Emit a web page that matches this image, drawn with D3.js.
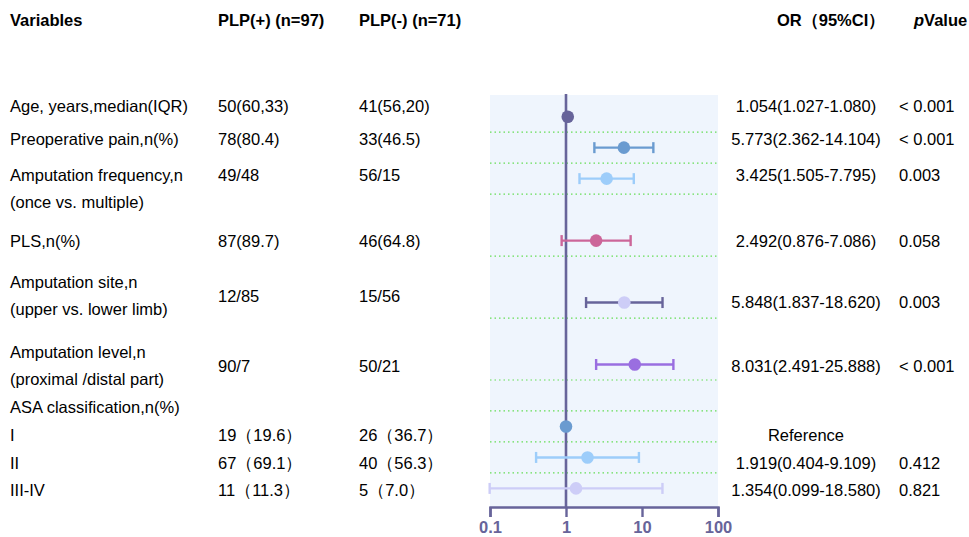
<!DOCTYPE html>
<html>
<head>
<meta charset="utf-8">
<script src="https://cdn.jsdelivr.net/npm/d3@7"></script>
<style>
  html, body { margin: 0; padding: 0; background: #fff; }
  svg { display: block; font-family: Arial, "Liberation Sans", sans-serif; }
</style>
</head>
<body>
<svg id="chart" width="969" height="537"></svg>
<script>
// table text
const variableLabels = [
  ['Age, years,median(IQR)'],
  ['Preoperative pain,n(%)'],
  ['Amputation frequency,n', '(once vs. multiple)'],
  ['PLS,n(%)'],
  ['Amputation site,n', '(upper vs. lower limb)'],
  ['Amputation level,n', '(proximal /distal part)'],
  ['ASA classification,n(%)'],
  ['I'],
  ['II'],
  ['III-IV']
];
const plpPos = ['50(60,33)', '78(80.4)', '49/48', '87(89.7)', '12/85', '90/7', '', '19（19.6）', '67（69.1）', '11（11.3）'];
const plpNeg = ['41(56,20)', '33(46.5)', '56/15', '46(64.8)', '15/56', '50/21', '', '26（36.7）', '40（56.3）', '5（7.0）'];
const orText = ['1.054(1.027-1.080)', '5.773(2.362-14.104)', '3.425(1.505-7.795)', '2.492(0.876-7.086)',
  '5.848(1.837-18.620)', '8.031(2.491-25.888)', '', 'Reference', '1.919(0.404-9.109)', '1.354(0.099-18.580)'];
const pText = ['< 0.001', '< 0.001', '0.003', '0.058', '0.003', '< 0.001', '', '', '0.412', '0.821'];

// forest plot values (null = no mark)
const orVal  = [1.054, 5.773, 3.425, 2.492, 5.848, 8.031, null, 1, 1.919, 1.354];
const ciLow  = [1.027, 2.362, 1.505, 0.876, 1.837, 2.491, null, null, 0.404, 0.099];
const ciHigh = [1.080, 14.104, 7.795, 7.086, 18.620, 25.888, null, null, 9.109, 18.580];
const plotSlot = [0, 1, 2, 4, 6, 8, 9, 10, 11, 12];
const dividerSlots = [0, 1, 2, 4, 6, 8, 9, 10, 11];
const xTicks = [0.1, 1, 10, 100];

const dotColors = ['#67649a', '#6a9bd0', '#9dcdfa', '#cc6699', '#cdcdf7', '#9a6ee0', null, '#6a9bd0', '#9dcdfa', '#cdcdf7'];
const barColors = ['#67649a', '#6a9bd0', '#9dcdfa', '#cc6699', '#67649a', '#9a6ee0', null, '#6a9bd0', '#9dcdfa', '#cdcdf7'];

// text row layout (y centre of first line)
const textY = [106, 139, 175, 241, 282, 352, 407, 435, 463, 490];
const LINE = 27;

const svg = d3.select('#chart');
const FS = 16.5;
const AXIS = '#67649a';

const panel = { x0: 490, x1: 718, y0: 95, y1: 507 };
const x = d3.scaleLog().domain([0.1, 100]).range([panel.x0, panel.x1]);
const y = d3.scaleLinear().domain([-0.7, 12.6]).range([panel.y0, panel.y1]);

// panel background
svg.append('rect')
  .attr('x', panel.x0).attr('y', panel.y0)
  .attr('width', panel.x1 - panel.x0).attr('height', panel.y1 - panel.y0)
  .attr('fill', '#eff5fd');

// dotted dividers
svg.append('g').selectAll('line')
  .data(dividerSlots)
  .enter().append('line')
  .attr('x1', panel.x0).attr('x2', panel.x1)
  .attr('y1', d => y(d + 0.5)).attr('y2', d => y(d + 0.5))
  .attr('stroke', '#66dd55')
  .attr('stroke-width', 1.2)
  .attr('stroke-dasharray', '1.5,3');

// reference line at OR = 1
svg.append('line')
  .attr('x1', x(1)).attr('x2', x(1))
  .attr('y1', panel.y0 - 1).attr('y2', panel.y1)
  .attr('stroke', AXIS).attr('stroke-width', 2.6);

// x axis
const axis = svg.append('g')
  .attr('transform', `translate(0,${panel.y1})`)
  .call(d3.axisBottom(x).tickValues(xTicks).tickFormat(d3.format('~g')).tickSize(10).tickPadding(4));
axis.select('.domain').attr('stroke', AXIS).attr('stroke-width', 2.4);
axis.selectAll('.tick line').attr('stroke', AXIS).attr('stroke-width', 2.4);
axis.selectAll('.tick text')
  .attr('fill', AXIS)
  .attr('font-size', 16.5)
  .attr('font-weight', 'bold')
  .attr('font-family', 'Arial, "Liberation Sans", sans-serif');

// error bars + dots
const rows = orVal.map((v, i) => ({ i, v, lo: ciLow[i], hi: ciHigh[i], slot: plotSlot[i] }))
  .filter(d => d.v !== null);
const marks = svg.append('g');
rows.filter(d => d.lo !== null).forEach(d => {
  const g = marks.append('g').attr('stroke', barColors[d.i]).attr('stroke-width', 2.4);
  const cy = y(d.slot);
  g.append('line').attr('x1', x(d.lo)).attr('x2', x(d.hi)).attr('y1', cy).attr('y2', cy);
  [d.lo, d.hi].forEach(e => {
    g.append('line').attr('x1', x(e)).attr('x2', x(e)).attr('y1', cy - 5.5).attr('y2', cy + 5.5);
  });
});
marks.selectAll('circle')
  .data(rows)
  .enter().append('circle')
  .attr('cx', d => x(d.v))
  .attr('cy', d => y(d.slot))
  .attr('r', 6.3)
  .attr('fill', d => dotColors[d.i]);

// header
const header = svg.append('g').attr('font-size', FS).attr('font-weight', 'bold').attr('fill', '#000');
header.append('text').attr('x', 10).attr('y', 20).attr('dominant-baseline', 'central').text('Variables');
header.append('text').attr('x', 218).attr('y', 20).attr('dominant-baseline', 'central').text('PLP(+) (n=97)');
header.append('text').attr('x', 359).attr('y', 20).attr('dominant-baseline', 'central').text('PLP(-) (n=71)');
header.append('text').attr('x', 777).attr('y', 20).attr('dominant-baseline', 'central').text('OR（95%CI）');
const pv = header.append('text').attr('x', 914).attr('y', 20).attr('dominant-baseline', 'central');
pv.append('tspan').attr('font-style', 'italic').text('p');
pv.append('tspan').text('Value');

// body rows
const body = svg.append('g').attr('font-size', FS).attr('fill', '#000');
variableLabels.forEach((lines, i) => {
  lines.forEach((t, k) => {
    body.append('text').attr('x', 10).attr('y', textY[i] + k * LINE)
      .attr('dominant-baseline', 'central').text(t);
  });
  // two-line rows: first-line values for row 2, centred for later ones
  let vy = textY[i];
  if (lines.length > 1 && i > 2) vy = textY[i] + LINE / 2;
  const oy = (i === 4) ? textY[i] + 20 : vy;
  body.append('text').attr('x', 218).attr('y', vy).attr('dominant-baseline', 'central').text(plpPos[i]);
  body.append('text').attr('x', 359).attr('y', vy).attr('dominant-baseline', 'central').text(plpNeg[i]);
  body.append('text').attr('x', 806).attr('y', oy).attr('text-anchor', 'middle')
    .attr('dominant-baseline', 'central').text(orText[i]);
  body.append('text').attr('x', 899).attr('y', oy).attr('dominant-baseline', 'central').text(pText[i]);
});
</script>
</body>
</html>
